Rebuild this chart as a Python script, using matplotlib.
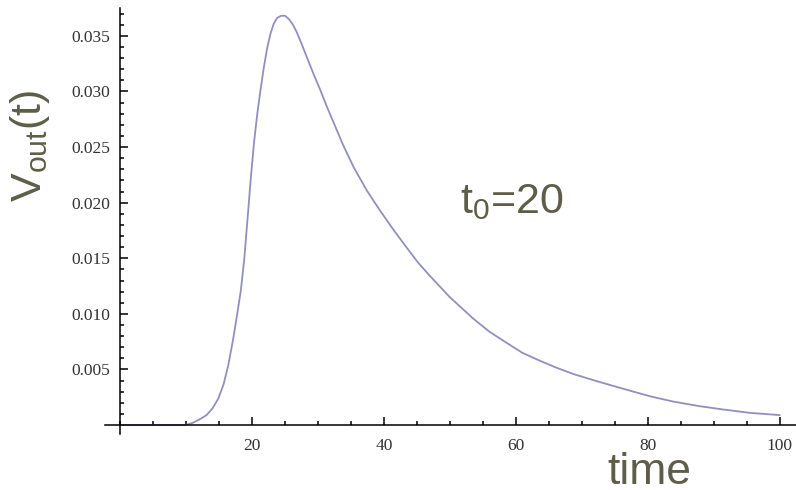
import numpy as np
import matplotlib.pyplot as plt
from matplotlib.ticker import MultipleLocator, FormatStrFormatter

# curve
time = [0, 9.8, 11.0, 12.0, 13.1, 14.0, 14.9, 15.7, 16.4, 17.1, 17.7, 18.3, 18.8,
        19.3, 19.8, 20.3, 20.8, 21.3, 21.8, 22.3, 22.8, 23.3, 23.8, 24.4, 25.0,
        25.6, 26.2, 26.8, 27.5, 28.3, 29.3, 30.3, 31.3, 32.3, 33.8, 35.4, 37.4,
        39.4, 41.4, 43.4, 45.2, 47.0, 50.0, 53.5, 56.0, 58.6, 61.0, 63.6, 66.0,
        68.7, 72.0, 75.5, 80.3, 84.0, 87.9, 91.5, 95.5, 100]
vout = [0, 0, 0.0002, 0.0005, 0.0009, 0.0015, 0.0024, 0.0037, 0.0054, 0.0076,
        0.0098, 0.0121, 0.0148, 0.0184, 0.0221, 0.0254, 0.0280, 0.0302, 0.0322,
        0.0339, 0.0352, 0.0361, 0.0366, 0.0368, 0.0368, 0.0365, 0.0360, 0.0353,
        0.0343, 0.0331, 0.0316, 0.0302, 0.0287, 0.0273, 0.0252, 0.0232, 0.0211,
        0.0193, 0.0176, 0.0160, 0.0146, 0.0134, 0.0115, 0.0096, 0.0084, 0.0074,
        0.0065, 0.0058, 0.0052, 0.0046, 0.0040, 0.0034, 0.0026, 0.0021, 0.0017,
        0.0014, 0.0011, 0.0009]

xticks = [20, 40, 60, 80, 100]
yticks = [0.005, 0.010, 0.015, 0.020, 0.025, 0.030, 0.035]

txt_col = '#5e5e48'
line_col = '#9090c0'

fig = plt.figure(figsize=(7.96, 4.9), dpi=100)
# axes box: px 105..796 horizontally, 8..434 vertically
ax = fig.add_axes([105/796, 1 - 434/490, (796-105)/796, (434-8)/490])
ax.plot(time, vout, color=line_col, lw=1.3, solid_joinstyle='round')
ax.set_xlim(-2.3, 102.5)
ax.set_ylim(-0.0008, 0.0375)

for s in ['top', 'right']:
    ax.spines[s].set_visible(False)
ax.spines['left'].set_position(('data', 0))
ax.spines['bottom'].set_position(('data', 0))
for s in ['left', 'bottom']:
    ax.spines[s].set_linewidth(1.1)

ax.set_xticks(xticks)
ax.set_yticks(yticks)
ax.xaxis.set_minor_locator(MultipleLocator(5))
ax.yaxis.set_minor_locator(MultipleLocator(0.001))
ax.yaxis.set_major_formatter(FormatStrFormatter('%.3f'))
ax.tick_params(which='both', direction='in', width=1.1, colors='black',
               labelcolor='#333333', labelsize=12.5)
ax.tick_params(which='major', length=6)
ax.tick_params(which='minor', length=3.2)
ax.tick_params(axis='x', pad=9)
ax.tick_params(axis='y', pad=7)
for lab in ax.get_xticklabels() + ax.get_yticklabels():
    lab.set_family('Liberation Serif')

fig.text(30/796, 1 - 146/490, r'$\mathregular{V_{out}(t)}$', rotation=90,
         ha='center', va='center', color=txt_col, fontsize=31, family='Liberation Sans')
fig.text(649/796, 1 - 484/490, 'time', ha='center', va='baseline',
         color=txt_col, fontsize=32, family='Liberation Sans')
fig.text(512/796, 1 - 213/490, r'$\mathregular{t_0}$=20', ha='center', va='baseline',
         color=txt_col, fontsize=31, family='Liberation Sans')

fig.savefig('out.png', dpi=100)
